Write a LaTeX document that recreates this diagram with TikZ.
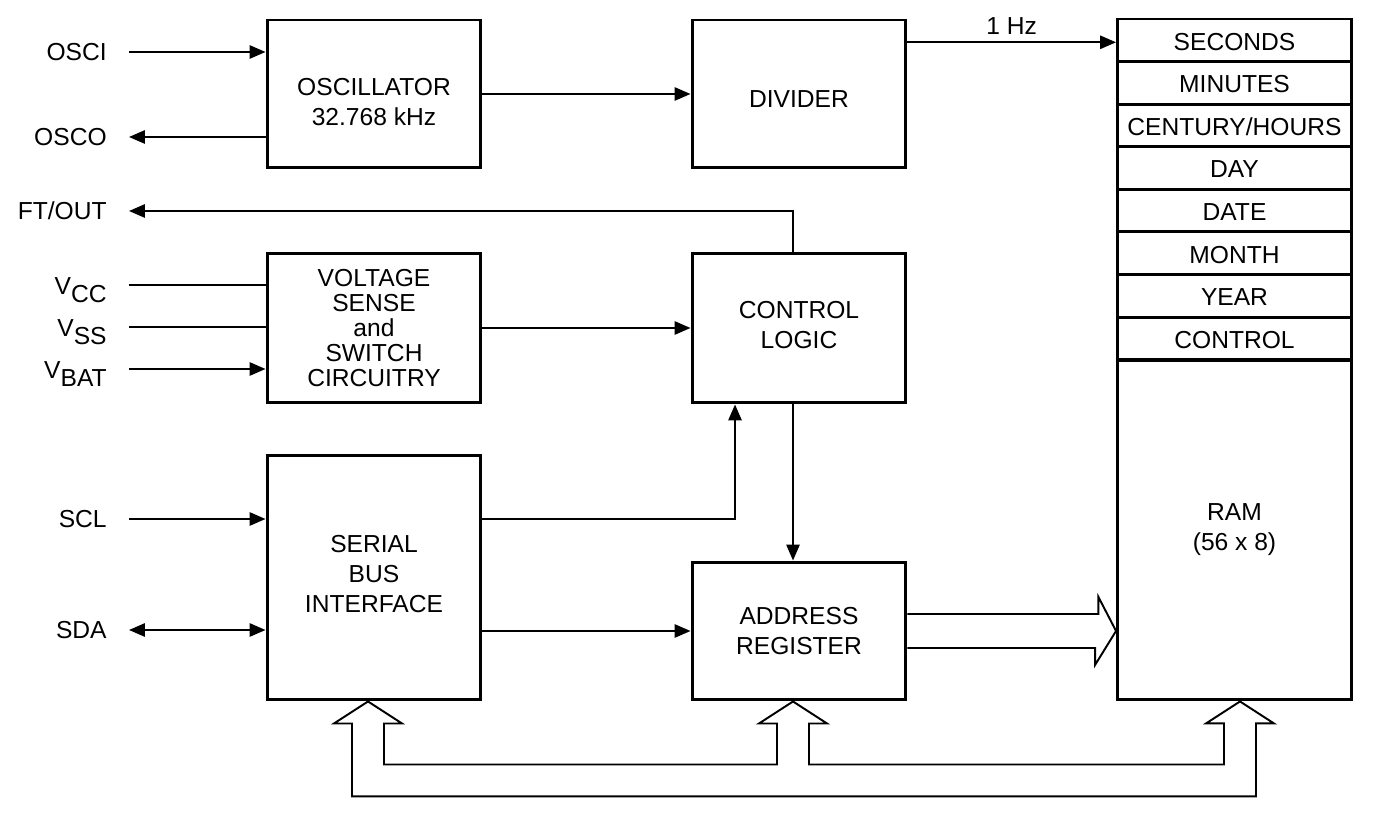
\documentclass[tikz,border=0pt]{standalone}
\usepackage{fontspec}
\setmainfont{Liberation Sans}
\usepackage{tikz}
\usetikzlibrary{arrows.meta,positioning,calc}

\newcommand{\blkfont}{\fontsize{14}{17}\selectfont}

\tikzset{
  blk/.style={draw,line width=1.7pt,minimum width=4.28cm,align=center,inner sep=0pt,font=\blkfont},
  regrow/.style={draw,line width=1.7pt,minimum width=4.68cm,minimum height=0.852cm,inner sep=0pt,font=\blkfont},
  pinlbl/.style={inner sep=0pt,font=\blkfont},
  wire/.style={line width=1.1pt},
  arr/.style={wire,-{Triangle[length=9pt,width=7.5pt]}},
  darr/.style={wire,{Triangle[length=9pt,width=7.5pt]}-{Triangle[length=9pt,width=7.5pt]}},
  bus/.style={line width=1.1pt,line join=miter}
}

\begin{document}
\begin{tikzpicture}[x=0.02cm,y=-0.02cm]
  \useasboundingbox (0,0) rectangle (1375,813);

  % function blocks
  \node[blk,minimum height=2.96cm] (osc) at (374,94) {\rule{0pt}{19pt}OSCILLATOR\\32.768 kHz};
  \node[blk,minimum height=2.96cm] (div) at (799,94) {\rule{0pt}{15pt}DIVIDER};
  \node[blk,minimum height=3cm,font={\fontsize{14}{14.2}\selectfont}] (vsense) at (374,328)
    {VOLTAGE\\SENSE\\and\\SWITCH\\CIRCUITRY};
  \node[blk,minimum height=3cm] (ctrl) at (799,328) {CONTROL\\LOGIC\rule[-3.4pt]{0pt}{3.4pt}};
  \node[blk,minimum height=4.9cm] (sbi) at (374,577.5) {SERIAL\\BUS\\INTERFACE\rule[-4pt]{0pt}{4pt}};
  \node[blk,minimum height=2.76cm] (addr) at (799,631) {ADDRESS\\REGISTER};

  % clock registers and RAM
  \foreach \reg [count=\i from 0] in {SECONDS,MINUTES,CENTURY/HOURS,DAY,DATE,MONTH,YEAR,CONTROL}
    \node[regrow,text height=11.2pt] (r\i) at (1234.5,40.3+42.6*\i) {\reg};
  \node[blk,minimum width=4.68cm,minimum height=6.8cm] (ram) at (1234.5,530) {RAM\\(56 x 8)};

  % pins
  \coordinate (osci) at (129,52);
  \coordinate (osco) at (129,137);
  \coordinate (ftout) at (129,211);
  \coordinate (vcc) at (129,285);
  \coordinate (vss) at (129,327);
  \coordinate (vbat) at (129,369);
  \coordinate (scl) at (129,519);
  \coordinate (sda) at (129,630);

  \node[pinlbl] (osci-l) [left=0.44cm of osci] {OSCI};
  \node[pinlbl] (osco-l) [left=0.44cm of osco] {OSCO};
  \node[pinlbl] (ftout-l) [left=0.44cm of ftout] {FT/OUT};
  \node[pinlbl,yshift=-3pt] (vcc-l) [left=0.44cm of vcc] {V\raisebox{-4.5pt}{CC}};
  \node[pinlbl,yshift=-3pt] (vss-l) [left=0.44cm of vss] {V\raisebox{-4.5pt}{SS}};
  \node[pinlbl,yshift=-3pt] (vbat-l) [left=0.44cm of vbat] {V\raisebox{-4.5pt}{BAT}};
  \node[pinlbl] (scl-l) [left=0.44cm of scl] {SCL};
  \node[pinlbl] (sda-l) [left=0.44cm of sda] {SDA};

  \draw[arr] (osci) -- (osc.west |- osci);
  \draw[arr] (osc.west |- osco) -- (osco);
  \draw[arr] ([xshift=-0.12cm]ctrl.north) |- (ftout);
  \draw[wire] (vcc) -- (vsense.west |- vcc);
  \draw[wire] (vss) -- (vsense.west |- vss);
  \draw[arr] (vbat) -- (vsense.west |- vbat);
  \draw[arr] (scl) -- (sbi.west |- scl);
  \draw[darr] (sda) -- (sbi.west |- sda);

  % internal signals
  \draw[arr] (osc) -- (div);
  \draw[arr] ([yshift=-0.04cm]div.east |- r0.west) -- node[pinlbl,above=0.14cm] (hz) {1 Hz} ([yshift=-0.04cm]r0.west);
  \draw[arr] (vsense) -- (ctrl);
  \draw[arr] (sbi.east |- scl) -| ([xshift=-1.28cm]ctrl.south);
  \draw[arr] ([xshift=-0.12cm]ctrl.south) -- ([xshift=-0.12cm]addr.north);
  \draw[arr] (sbi.east |- addr) -- (addr);

  % wide address arrow
  \draw[bus] ([yshift=0.34cm]addr.east) -- ++(3.82cm,0) -- ++(0,0.34cm)
    -- (ram.west |- addr.east) -- ++(-0.42cm,-0.68cm) -- ++(0,0.34cm)
    -- ([yshift=-0.34cm]addr.east);

  % data bus
  \coordinate (bs) at ([xshift=-0.12cm]sbi.south);
  \coordinate (ba) at ([xshift=-0.12cm]addr.south);
  \coordinate (br) at ([xshift=0.11cm]ram.south);
  \draw[bus] ($(bs)+(-16,22)$) |- ($(br)+(16,95)$) -- ++(0,-73) -- ++(18,0)
    -- (br) -- ++(-34,22) -- ++(18,0)
    |- ($(ba)+(16,63)$) -- ++(0,-41) -- ++(18,0)
    -- (ba) -- ++(-34,22) -- ++(18,0)
    |- ($(bs)+(16,63)$) -- ++(0,-41) -- ++(18,0)
    -- (bs) -- ++(-34,22) -- cycle;
\end{tikzpicture}
\end{document}
